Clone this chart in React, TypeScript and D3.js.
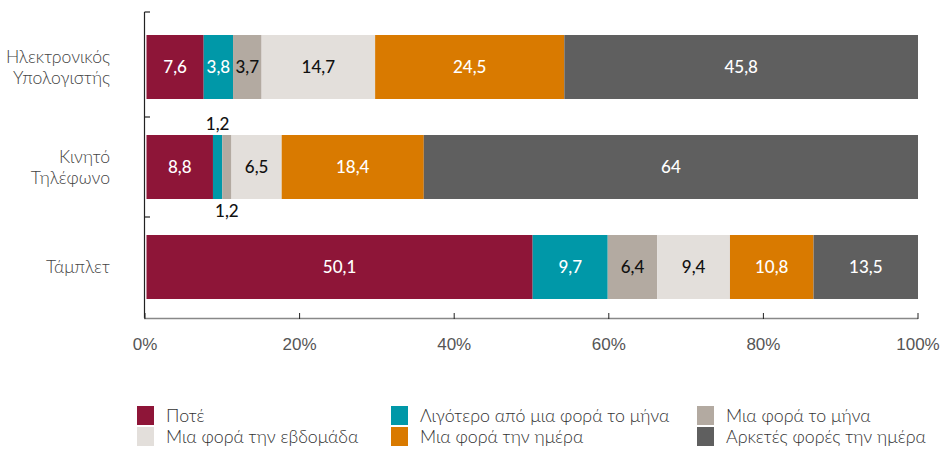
import React from "react";
import * as d3 from "d3";

const categories = ["Ηλεκτρονικός Υπολογιστής", "Κινητό Τηλέφωνο", "Τάμπλετ"];
const categoryLines = [["Ηλεκτρονικός", "Υπολογιστής"], ["Κινητό", "Τηλέφωνο"], ["Τάμπλετ"]];
const seriesNames = [
  "Ποτέ",
  "Λιγότερο από μια φορά το μήνα",
  "Μια φορά το μήνα",
  "Μια φορά την εβδομάδα",
  "Μια φορά την ημέρα",
  "Αρκετές φορές την ημέρα",
];
const computer = [7.6, 3.8, 3.7, 14.7, 24.5, 45.8];
const mobile = [8.8, 1.2, 1.2, 6.5, 18.4, 64];
const tablet = [50.1, 9.7, 6.4, 9.4, 10.8, 13.5];
const xTicks = [0, 0.2, 0.4, 0.6, 0.8, 1];

const colors = ["#8e1538", "#0098a8", "#b3aaa1", "#e3dfdb", "#d97a00", "#5f5f5f"];
const labelColors = ["#fff", "#fff", "#111", "#111", "#fff", "#fff"];

const W = 940;
const H = 450;

export default function App() {
  const rows = [computer, mobile, tablet].map((vals, i) => {
    const r: any = { cat: categories[i] };
    seriesNames.forEach((s, j) => (r[s] = vals[j]));
    return r;
  });

  const stacked = d3
    .stack<any>()
    .keys(seriesNames)
    .offset(d3.stackOffsetExpand)(rows);

  const x = d3.scaleLinear().domain([0, 1]).range([145, 918]);
  const y = d3.scaleBand().domain(categories).range([17, 317]).paddingInner(0.36).paddingOuter(0.18);
  const gap = (y.step() - y.bandwidth()) / 2;
  const yTicks = [12, ...categories.slice(1).map((c) => y(c)! - gap)];

  const font = "Lato, 'Noto Sans', sans-serif";
  const fmt = (v: number) => String(v).replace(".", ",");

  return (
    <svg width={W} height={H} style={{ position: "absolute", left: 0, top: 0 }}>
      {stacked.map((layer, si) =>
        layer.map((d, ci) => {
          const x0 = x(d[0]) + (d[0] === 0 ? 1.5 : 0);
          const x1 = x(d[1]);
          const yy = y(categories[ci])!;
          const bw = y.bandwidth();
          const v = (d.data as any)[seriesNames[si]];
          const small = x1 - x0 < 20;
          let ly = yy + bw / 2;
          let lc = labelColors[si];
          if (small) {
            ly = si === 1 ? yy - 11 : yy + bw + 12;
            lc = "#111";
          }
          return (
            <g key={si + "-" + ci}>
              <rect x={x0} y={yy} width={x1 - x0} height={bw} fill={colors[si]} />
              <text
                x={(x0 + x1) / 2}
                y={ly}
                dy="0.35em"
                textAnchor="middle"
                fontFamily={font}
                fontWeight={500}
                fontSize={17}
                fill={lc}
              >
                {fmt(v)}
              </text>
            </g>
          );
        })
      )}

      {/* left axis */}
      <line x1={144.5} x2={144.5} y1={12} y2={318} stroke="#222" strokeWidth={1.2} />
      {yTicks.map((t, i) => (
        <line key={i} x1={144.5} x2={150} y1={t} y2={t} stroke="#222" strokeWidth={1.2} />
      ))}
      {categories.map((c, i) => {
        const lines = categoryLines[i];
        const cy = y(c)! + y.bandwidth() / 2;
        return (
          <text key={c} textAnchor="end" fontFamily={font} fontWeight={300} fontSize={17.6} fill="#444">
            {lines.map((l, k) => (
              <tspan key={k} x={110} y={cy + (k - (lines.length - 1) / 2) * 21} dy="0.35em">
                {l}
              </tspan>
            ))}
          </text>
        );
      })}

      {/* bottom axis */}
      <line x1={144} x2={918} y1={318.5} y2={318.5} stroke="#888" strokeWidth={1.5} />
      {xTicks.map((t) => (
        <g key={t}>
          <line x1={x(t)} x2={x(t)} y1={313} y2={319} stroke="#222" strokeWidth={1} />
          <text
            x={x(t)}
            y={344}
            dy="0.35em"
            textAnchor="middle"
            fontFamily="'Liberation Sans Narrow', 'Liberation Sans', sans-serif"
            fontSize={17}
            fill="#555"
          >
            {Math.round(t * 100) + "%"}
          </text>
        </g>
      ))}

      {/* legend */}
      {seriesNames.map((s, i) => {
        const col = i % 3;
        const row = Math.floor(i / 3);
        const lx = [137, 391, 697][col];
        const ly = 406 + row * 21;
        return (
          <g key={s}>
            <rect x={lx} y={ly} width={17} height={19} fill={colors[i]} />
            <text x={lx + 29} y={ly + 10} dy="0.35em" fontFamily={font} fontWeight={300} fontSize={17.8} fill="#333">
              {s}
            </text>
          </g>
        );
      })}
    </svg>
  );
}
